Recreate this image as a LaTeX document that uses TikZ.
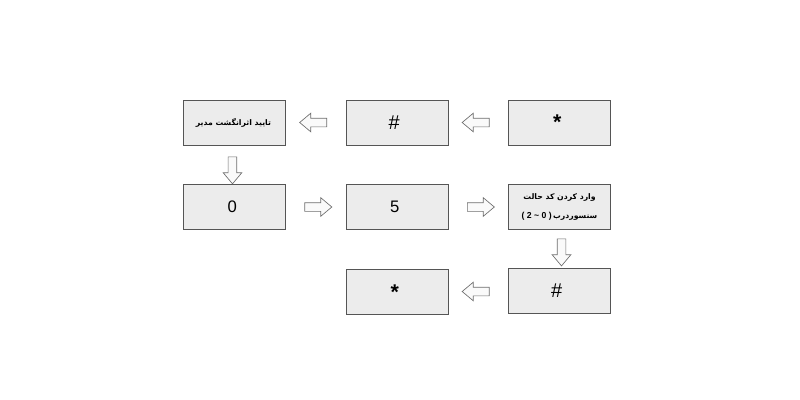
\documentclass[tikz,border=0pt]{standalone}
\usepackage{fontspec}
\setmainfont{Liberation Sans}
\newfontfamily\persianfont[Script=Arabic]{DejaVu Sans}
\TeXXeTstate=1
\usetikzlibrary{shapes.arrows}
\usetikzlibrary{calc}
\definecolor{boxfill}{HTML}{ECECEC}
\definecolor{boxline}{HTML}{555555}
\definecolor{arrowline}{HTML}{6E6E6E}
\definecolor{arrowfill}{HTML}{FAFAFA}
\newcommand\fa[1]{{\persianfont\bfseries\beginR #1\endR}}
\newcommand\starmark[1]{\raisebox{#1}{\bfseries\fontsize{16}{16}\selectfont *}}
\def\xsep{162.5}
\def\ysep{84.5}

\begin{document}
\begin{tikzpicture}[
    x=0.75pt, y=-0.75pt,
    stepbox/.style={
      draw=boxline, fill=boxfill, line width=0.7pt,
      minimum width=76.5pt, minimum height=33.75pt,
      inner sep=0pt, align=center, font=\fontsize{12.5}{14}\selectfont
    },
    blockarrow/.style={
      single arrow, draw=arrowline, fill=arrowfill, line width=0.5pt,
      minimum height=20.25pt, inner xsep=0pt, inner ysep=3pt,
      single arrow head extend=3.75pt, single arrow tip angle=80
    }
  ]
    \useasboundingbox (-234.5,-122.5) rectangle (565.5,277.5);

    % first row, read from right to left
    \node[stepbox] (StarA) at (2*\xsep, 0*\ysep) { \starmark{-4pt} };
    \node[stepbox] (HashA) at (1*\xsep, 0*\ysep) { \fontsize{15}{15}\selectfont\# };
    \node[stepbox] (Finger) at (0*\xsep, 0*\ysep) { \fontsize{5.8}{8}\selectfont\fa{تایید اثرانگشت مدیر} };

    % second row
    \node[stepbox] (Zero) at (0*\xsep, 1*\ysep) { 0 };
    \node[stepbox] (Five) at (1*\xsep, 1*\ysep) { 5 };
    \node[stepbox] (Sensor) at (2*\xsep, 1*\ysep) {
      \fontsize{5.8}{11}\selectfont\fa{وارد کردن کد حالت}\\
      \fontsize{6.5}{11}\selectfont\bfseries( 2 \textasciitilde{} 0 )\,\fontsize{5.8}{11}\selectfont\fa{سنسوردرب} };

    % third row
    \node[stepbox] (HashB) at (2*\xsep, 1.99*\ysep) { \fontsize{15}{15}\selectfont\# };
    \node[stepbox] (StarB) at (1*\xsep, 2.01*\ysep) { \starmark{-5pt} };

    \node[blockarrow, rotate=180] (ArrA) at ($(StarA.west)!0.5!(HashA.east)$) {};
    \node[blockarrow, rotate=180] (ArrB) at ($(HashA.west)!0.5!(Finger.east)$) {};
    \node[blockarrow, rotate=-90] (ArrC) at ($(Finger.south)!0.5!(Zero.north)+(-2,3)$) {};
    \node[blockarrow] (ArrD) at ($(Zero.east)!0.5!(Five.west)$) {};
    \node[blockarrow] (ArrE) at ($(Five.east)!0.5!(Sensor.west)$) {};
    \node[blockarrow, rotate=-90] (ArrF) at ($(Sensor.south)!0.5!(HashB.north)+(2,1)$) {};
    \node[blockarrow, rotate=180] (ArrG) at ($(HashB.west)!0.5!(StarB.east)$) {};
  \end{tikzpicture}
\end{document}
